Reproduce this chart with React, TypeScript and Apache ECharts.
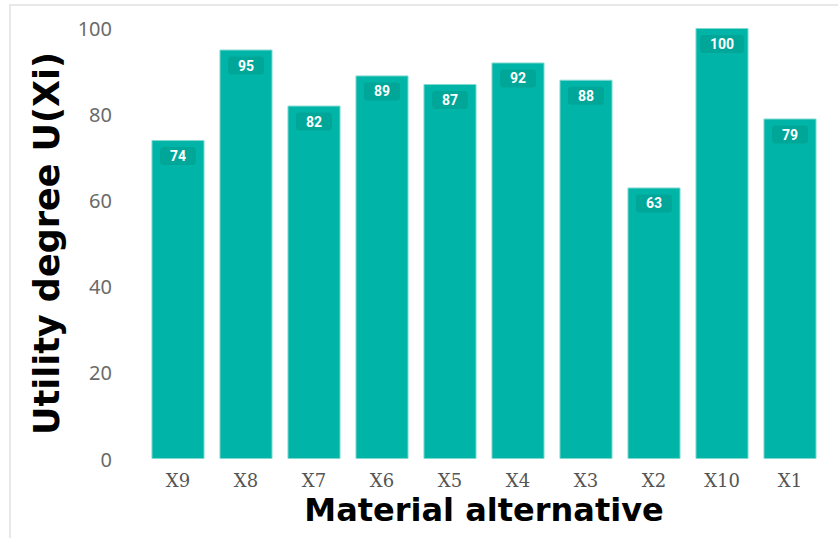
import React, { useEffect, useRef } from "react";
import * as echarts from "echarts";

const categories = ["X9", "X8", "X7", "X6", "X5", "X4", "X3", "X2", "X10", "X1"];
const utilityValues = [74, 95, 82, 89, 87, 92, 88, 63, 100, 79];
const xAxisTitle = "Material alternative";
const yAxisTitle = "Utility degree U(Xi)";

export default function App() {
  const ref = useRef<HTMLDivElement>(null);
  useEffect(() => {
    document.body.style.margin = "0";
    const chart = echarts.init(ref.current!, undefined, { renderer: "svg" });
    chart.setOption({
      animation: false,
      backgroundColor: "#ffffff",
      graphic: [
        {
          type: "rect",
          shape: { x: 10, y: 5, width: 840, height: 540 },
          style: { fill: "none", stroke: "#e8e8e8", lineWidth: 2 },
          silent: true,
          z: -10,
        },
      ],
      grid: { left: 144, right: 14, top: 28, bottom: 79 },
      xAxis: {
        type: "category",
        data: categories,
        axisLine: { show: false },
        axisTick: { show: false },
        axisLabel: {
          fontFamily: "DejaVu Serif",
          fontSize: 18,
          color: "#555555",
          margin: 12,
        },
        name: xAxisTitle,
        nameLocation: "middle",
        nameGap: 35,
        nameTextStyle: {
          fontFamily: "DejaVu Sans",
          fontWeight: "bold",
          fontSize: 32,
          color: "#000000",
        },
      },
      yAxis: {
        type: "value",
        min: 0,
        max: 100,
        interval: 20,
        axisLine: { show: false },
        axisTick: { show: false },
        splitLine: { show: false },
        axisLabel: {
          fontFamily: "Noto Sans",
          fontSize: 20,
          color: "#6a6a6a",
          margin: 32,
        },
        name: yAxisTitle,
        nameLocation: "middle",
        nameGap: 80,
        nameTextStyle: {
          fontFamily: "DejaVu Sans",
          fontWeight: "bold",
          fontSize: 35,
          color: "#000000",
        },
      },
      series: [
        {
          type: "bar",
          data: utilityValues,
          barCategoryGap: "22%",
          itemStyle: { color: "#00b5a7", borderColor: "#7fd9d1", borderWidth: 1 },
          label: {
            show: true,
            position: "insideTop",
            distance: 7,
            color: "#ffffff",
            fontFamily: "Roboto",
            fontWeight: "bold",
            fontSize: 14,
            backgroundColor: "#00a698",
            borderRadius: 3,
            padding: [2, 10],
          },
        },
      ],
    });
    return () => chart.dispose();
  }, []);
  return (
    <div
      ref={ref}
      style={{ position: "fixed", left: 0, top: 0, width: 838, height: 538 }}
    />
  );
}
